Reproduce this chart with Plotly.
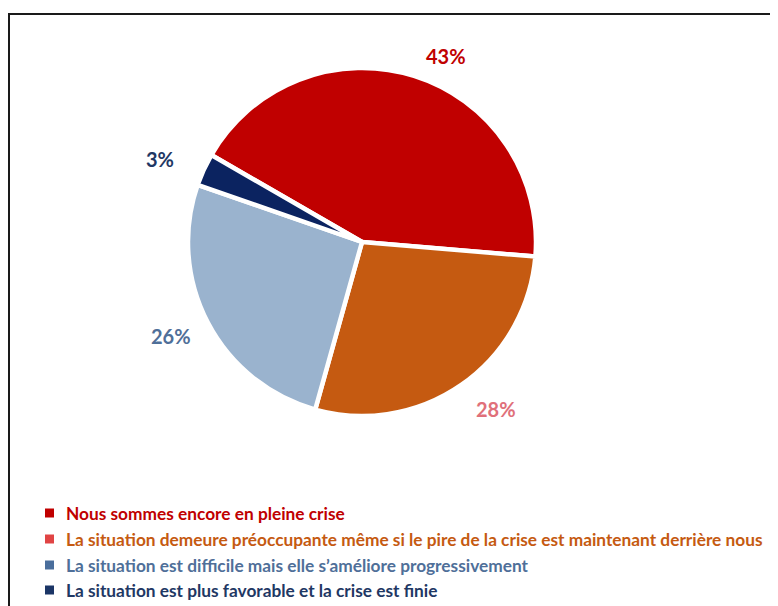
import math
import plotly.graph_objects as go

# page body adds an 8px margin, so the figure is drawn 8px smaller and all
# pixel positions below are given in the figure's own frame
W, H = 770, 598

labels = [
    "Nous sommes encore en pleine crise",
    "La situation demeure préoccupante même si le pire de la crise est maintenant derrière nous",
    "La situation est difficile mais elle s’améliore progressivement",
    "La situation est plus favorable et la crise est finie",
]
values = [43, 28, 26, 3]

slice_colors = ["#C00000", "#C55A11", "#9AB3CE", "#0B2360"]
pct_colors = ["#C00000", "#E0707A", "#4F6F99", "#1F3864"]
legend_square_colors = ["#C00000", "#E04444", "#4A6E9C", "#1B3566"]
legend_text_colors = ["#C00000", "#C55A11", "#4F6F99", "#1F3864"]

FONT = "Lato"
ROTATION = -60


def px_x(x):
    return x / W


def px_y(y):
    return 1 - y / H


cx, cy, r = 354, 234, 174

fig = go.Figure(go.Pie(
    labels=labels,
    values=values,
    sort=False,
    direction="clockwise",
    rotation=ROTATION,
    marker=dict(colors=slice_colors, line=dict(color="white", width=4.5)),
    textinfo="none",
    showlegend=False,
    hoverinfo="label+percent",
    domain=dict(x=[px_x(cx - r), px_x(cx + r)], y=[px_y(cy + r), px_y(cy - r)]),
))

# percentage labels placed outside each slice, at the slice's mid angle
label_r = 212
label_shift = [(21, 16), (13, -7), (-3, -4), (-9, 5)]
total = sum(values)
cum = 0
for v, col, (dx, dy) in zip(values, pct_colors, label_shift):
    theta = math.radians(ROTATION + (cum + v / 2) / total * 360)
    cum += v
    lx = cx + label_r * math.sin(theta) + dx
    ly = cy - label_r * math.cos(theta) + dy
    fig.add_annotation(x=px_x(lx), y=px_y(ly), xref="paper", yref="paper",
                       text=f"<b>{v}%</b>", showarrow=False,
                       xanchor="center", yanchor="middle",
                       font=dict(family=FONT, size=20, color=col))

# frame around the chart (cropped on the right and bottom)
fig.add_shape(type="rect", xref="paper", yref="paper",
              x0=px_x(1), x1=px_x(800), y0=px_y(640), y1=px_y(6),
              line=dict(color="#1a1a1a", width=2))

# custom legend, one row per category
row_y = [505, 531, 557, 582]
for lab, sq, tc, y in zip(labels, legend_square_colors, legend_text_colors, row_y):
    fig.add_shape(type="rect", xref="paper", yref="paper",
                  x0=px_x(37), x1=px_x(46), y0=px_y(y + 4.5), y1=px_y(y - 4.5),
                  fillcolor=sq, line=dict(width=0))
    fig.add_annotation(x=px_x(56), y=px_y(y), xref="paper", yref="paper",
                       text=f"<b>{lab}</b>", showarrow=False,
                       xanchor="left", yanchor="middle",
                       font=dict(family=FONT, size=17.3, color=tc))

fig.update_layout(
    width=W, height=H,
    margin=dict(l=0, r=0, t=0, b=0),
    paper_bgcolor="white",
    plot_bgcolor="white",
)

fig.write_html("out.html")
